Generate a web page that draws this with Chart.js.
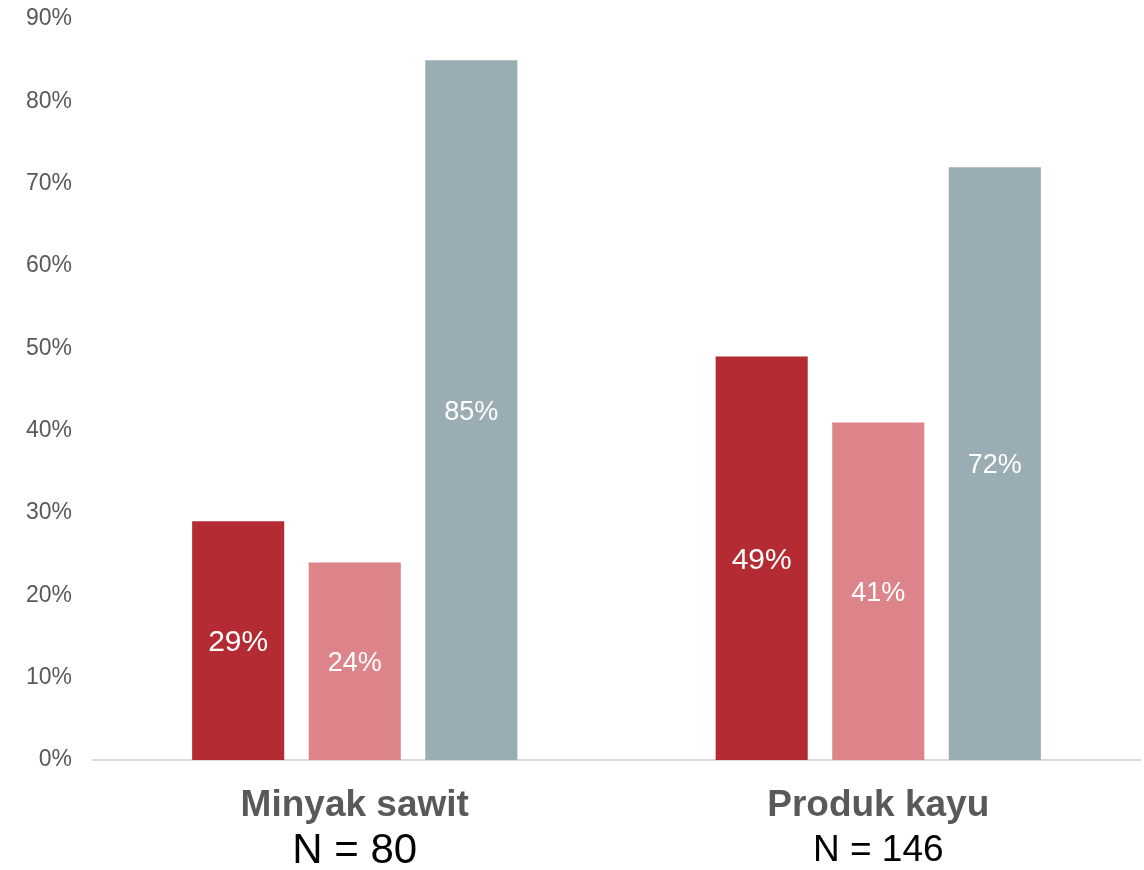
<!DOCTYPE html>
<html>
<head>
<meta charset="utf-8">
<script src="https://cdn.jsdelivr.net/npm/chart.js@4.4.1/dist/chart.umd.min.js"></script>
<style>
  html, body { margin: 0; padding: 0; background: #fff; }
  #wrap { width: 1144px; height: 870px; }
</style>
</head>
<body>
<div id="wrap"><canvas id="bar-chart"></canvas></div>
<script>
var categories = ['Minyak sawit', 'Produk kayu'];
var sampleSizes = ['N = 80', 'N = 146'];
var seriesA = [29, 49];
var seriesB = [24, 41];
var seriesC = [85, 72];
var yTicks = [0, 10, 20, 30, 40, 50, 60, 70, 80, 90];

var colors = ['#B52B33', '#DD848B', '#9AADB4'];
var labelSizes = [30, 27, 27];
var nSizes = [42, 37];

// labels inside the bars
var barLabels = {
    id: 'barLabels',
    afterDatasetsDraw: function(chart) {
        var ctx = chart.ctx;
        ctx.save();
        ctx.fillStyle = '#ffffff';
        ctx.textAlign = 'center';
        ctx.textBaseline = 'middle';
        chart.data.datasets.forEach(function(ds, di) {
            var meta = chart.getDatasetMeta(di);
            ctx.font = labelSizes[di] + 'px "Liberation Sans", Arial, sans-serif';
            meta.data.forEach(function(bar, i) {
                ctx.fillText(ds.data[i] + '%', bar.x, (bar.y + bar.base) / 2 + 2);
            });
        });
        ctx.restore();
    }
};

// two-line category labels under the axis
var catLabels = {
    id: 'catLabels',
    afterDraw: function(chart) {
        var ctx = chart.ctx;
        var x = chart.scales.x;
        ctx.save();
        ctx.textAlign = 'center';
        ctx.textBaseline = 'middle';
        for (var i = 0; i < categories.length; i++) {
            var px = x.getPixelForValue(i);
            ctx.fillStyle = '#595959';
            ctx.font = 'bold 37px "Liberation Sans", Arial, sans-serif';
            ctx.fillText(categories[i], px, x.top + 46);
            ctx.fillStyle = '#000000';
            ctx.font = nSizes[i] + 'px "Liberation Sans", Arial, sans-serif';
            ctx.fillText(sampleSizes[i], px, x.top + 91);
        }
        ctx.restore();
    }
};

var ctx = document.getElementById('bar-chart');
var chart = new Chart(ctx, {
    type: 'bar',
    data: {
        labels: categories,
        datasets: [
            { data: seriesA, backgroundColor: colors[0] },
            { data: seriesB, backgroundColor: colors[1] },
            { data: seriesC, backgroundColor: colors[2] }
        ]
    },
    options: {
        responsive: true,
        maintainAspectRatio: false,
        animation: false,
        layout: { padding: { top: 19, right: 4, left: 0, bottom: 0 } },
        plugins: {
            legend: { display: false },
            tooltip: { enabled: false }
        },
        datasets: {
            bar: { barPercentage: 0.79, categoryPercentage: 0.668 }
        },
        scales: {
            x: {
                grid: { display: false },
                border: { display: true, color: '#D9D9D9', width: 2 },
                ticks: { display: false },
                afterFit: function(scale) { scale.height = 110; }
            },
            y: {
                min: 0,
                max: 90,
                grid: { display: false },
                border: { display: false },
                afterBuildTicks: function(scale) {
                    scale.ticks = yTicks.map(function(v) { return { value: v }; });
                },
                afterFit: function(scale) {
                    scale.width = 93;
                    scale.paddingTop = 0;
                    scale.paddingBottom = 0;
                },
                ticks: {
                    padding: 13,
                    color: '#595959',
                    font: { family: '"Liberation Sans", Arial, sans-serif', size: 23 },
                    callback: function(v) { return v + '%'; }
                }
            }
        }
    },
    plugins: [barLabels, catLabels]
});
</script>
</body>
</html>
